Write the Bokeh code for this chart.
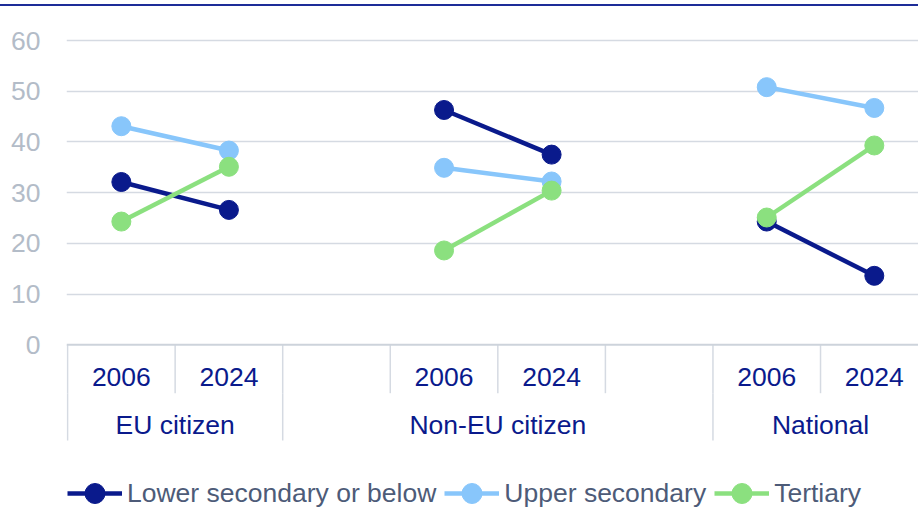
import math
from bokeh.plotting import figure
from bokeh.models import (Range1d, FixedTicker, Legend, LegendItem, Span, Spacer)
from bokeh.layouts import column
from bokeh.core.properties import value
from bokeh.embed import file_html
from bokeh.resources import INLINE

# ---------------- data ----------------
groups = ["EU citizen", "Non-EU citizen", "National"]
years = ["2006", "2024"]
series_names = ["Lower secondary or below", "Upper secondary", "Tertiary"]
# values per group: [2006, 2024]
lower = [[32.1, 26.6], [46.3, 37.5], [24.3, 13.6]]
upper = [[43.1, 38.3], [34.9, 32.2], [50.8, 46.7]]
tertiary = [[24.3, 35.1], [18.6, 30.4], [25.1, 39.3]]
y_ticks = [0, 10, 20, 30, 40, 50, 60]

# ---------------- layout (category slots, incl. blank slots of the original) ----------------
group_slots = [[0, 1], [3, 4], [6, 7]]      # slot index of each year inside each group
group_spans = [(0, 2), (2, 6), (6, 8)]      # slot span of each group
year_row_seps = [0, 1, 2, 3, 4, 5, 6, 7]
group_row_seps = [0, 2, 6]

NAVY = "#0a1a8c"
LIGHT = "#88c6fb"
GREEN = "#8be07f"
GRID = "#d5dae2"
TICKC = "#b3bcc8"
LEGC = "#4d5b78"
FONT = "Liberation Sans"
FS = "26.5px"

W = 918
gap_top = 4
line_h = 2
top_off = gap_top + line_h
H = 507 - top_off
frame_left_px = 66
slot_px = 107.7
x_end = (W - frame_left_px) / slot_px

# vertical pixel mapping (figure coords, top = 0)
y0_px = 344.3 - top_off
y60_px = 40 - top_off
ppu = (y0_px - y60_px) / 60.0
def px_to_y(py):
    return (y0_px - (py - top_off)) / ppu
y_end = px_to_y(top_off)
y_start = px_to_y(507)

p = figure(width=W, height=H, output_backend="svg", toolbar_location=None,
           x_range=Range1d(-0.01, x_end), y_range=Range1d(y_start, y_end),
           x_axis_location=None, min_border=0, min_border_left=frame_left_px,
           min_border_right=0, min_border_top=0, min_border_bottom=0)
p.outline_line_color = None
p.background_fill_color = "white"
p.border_fill_color = "white"
p.xgrid.visible = False
p.ygrid.ticker = FixedTicker(ticks=y_ticks[1:])
p.ygrid.grid_line_color = GRID
p.ygrid.grid_line_width = 1.3

ax = p.yaxis[0]
ax.ticker = FixedTicker(ticks=y_ticks)
ax.axis_line_color = None
ax.major_tick_line_color = None
ax.minor_tick_line_color = None
ax.major_label_text_font = FONT
ax.major_label_text_font_size = FS
ax.major_label_text_color = TICKC
ax.major_label_standoff = 20

# zero line
p.add_layout(Span(location=0, dimension="width", line_color="#cdd3db", line_width=2))

# separators
yr_bottom = px_to_y(392.7)
grp_bottom = px_to_y(440)
p.segment(x0=year_row_seps, x1=year_row_seps, y0=[0] * len(year_row_seps),
          y1=[yr_bottom] * len(year_row_seps), line_color=GRID, line_width=1.5)
p.segment(x0=group_row_seps, x1=group_row_seps, y0=[yr_bottom] * len(group_row_seps),
          y1=[grp_bottom] * len(group_row_seps), line_color=GRID, line_width=1.5)

# category labels
year_x, year_t = [], []
for slots in group_slots:
    for s, yl in zip(slots, years):
        year_x.append(s + 0.5)
        year_t.append(yl)
p.text(x=year_x, y=[px_to_y(376.5)] * len(year_x), text=year_t,
       text_align="center", text_baseline="middle", text_font=value(FONT),
       text_font_size=FS, text_color=NAVY)
grp_x = [(a + b) / 2 for a, b in group_spans]
p.text(x=grp_x, y=[px_to_y(424)] * len(grp_x), text=groups,
       text_align="center", text_baseline="middle", text_font=value(FONT),
       text_font_size=FS, text_color=NAVY)

# series
items = []
for name, vals, col in zip(series_names, [lower, upper, tertiary], [NAVY, LIGHT, GREEN]):
    xs = [[s + 0.5 for s in slots] for slots in group_slots]
    ys = [list(v) for v in vals]
    lr = p.multi_line(xs=xs, ys=ys, line_color=col, line_width=4.5)
    fx = [x for xx in xs for x in xx]
    fy = [y for yy in ys for y in yy]
    sr = p.scatter(x=fx, y=fy, size=19, fill_color=col, line_color=col, line_width=1)
    items.append(LegendItem(label=name, renderers=[lr, sr]))

legend = Legend(items=items, orientation="horizontal", location=(1, -11),
                glyph_width=55, glyph_height=50, label_standoff=5, spacing=8,
                padding=0, margin=0, border_line_color=None, background_fill_alpha=0,
                label_text_font=FONT, label_text_font_size=FS, label_text_color=LEGC)
p.add_layout(legend, "center")

gap = Spacer(width=W, height=gap_top)
top = Spacer(width=W, height=line_h, styles={"background-color": "#1d2c98"})
layout = column(gap, top, p, spacing=0)

open("out.html", "w").write(file_html(layout, INLINE))
